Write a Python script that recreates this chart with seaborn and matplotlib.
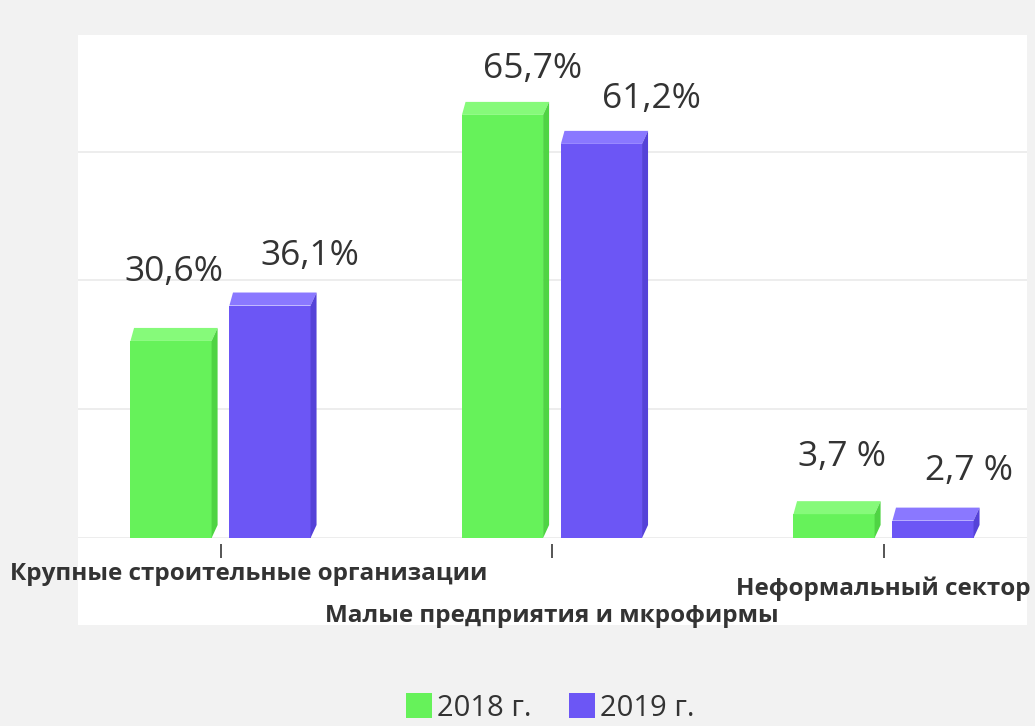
import matplotlib
matplotlib.use("Agg")
import matplotlib.pyplot as plt
import matplotlib.transforms as mtransforms
from matplotlib.patches import Polygon, Rectangle
import seaborn as sns
import pandas as pd

categories = ["Крупные строительные организации",
              "Малые предприятия и мкрофирмы",
              "Неформальный сектор"]
series_names = ["2018 г.", "2019 г."]
values_2018 = [30.6, 65.7, 3.7]
values_2019 = [36.1, 61.2, 2.7]
labels_2018 = ["30,6%", "65,7%", "3,7 %"]
labels_2019 = ["36,1%", "61,2%", "2,7 %"]

# styling
front = ["#66F25A", "#6C56F5"]
top_c = ["#86FA7A", "#8A78FF"]
side_c = ["#4FD444", "#5542D8"]
# label offsets in pixels (x shift, gap above bar) per series, mimicking the reference placement
label_dx = [[3, 30, 8], [40, 50, 36]]
label_gap = [[54, 31, 42], [35, 30, 35]]

df = pd.DataFrame({
    "cat": categories * 2,
    "year": [series_names[0]] * 3 + [series_names[1]] * 3,
    "val": values_2018 + values_2019,
})

sns.set_theme(style="white")
plt.rcParams["font.family"] = ["Open Sans", "DejaVu Sans"]

DPI = 100
fig = plt.figure(figsize=(10.35, 7.26), dpi=DPI)
fig.patch.set_facecolor("#F2F2F2")
bgrect = Rectangle((78 / 1035, 1 - 625 / 726), (1027 - 78) / 1035, (625 - 35) / 726,
                   transform=fig.transFigure, facecolor="white", edgecolor="none", zorder=-5)
fig.add_artist(bgrect)

Y0 = 538
ax = fig.add_axes([78 / 1035, 1 - Y0 / 726, (1027 - 78) / 1035, (Y0 - 35) / 726])
ax.set_zorder(2)
ax.patch.set_alpha(0)

sns.barplot(data=df, x="cat", y="val", hue="year", palette=front, width=0.597, gap=0.18,
            ax=ax, legend=True, saturation=1, edgecolor="none", zorder=3)

ax.set_xlim(-(220.5 - 78) / 331.5, (1027 - 220.5) / 331.5)
ax.set_ylim(0, (Y0 - 35) / 6.44)
ax.set_yticks([0, 20, 40, 60])
ax.set_yticklabels([])
ax.tick_params(axis="y", length=0)
ax.grid(axis="y", color="#ECECEC", linewidth=1.3, zorder=0)
ax.set_axisbelow(True)
for s in ["left", "right", "top"]:
    ax.spines[s].set_visible(False)
ax.spines["bottom"].set_position(("outward", 4))
ax.spines["bottom"].set_visible(False)
ax.tick_params(axis="x", length=10, width=1.4, color="#555555", direction="out",
               bottom=True, pad=3)
ax.set_xlabel("")
ax.set_ylabel("")

# fake 3D faces derived from bar geometry
dx, dy = 6, 13
for ci, cont in enumerate(ax.containers):
    for bar in cont:
        x0, y0 = bar.get_x(), bar.get_y()
        x1, y1 = x0 + bar.get_width(), y0 + bar.get_height()
        (px0, py0), (px1, py1) = ax.transData.transform([(x0, y0), (x1, y1)])
        topp = Polygon([(px0, py1), (px0 + dx * 0.6, py1 + dy), (px1 + dx, py1 + dy), (px1, py1)],
                       closed=True, transform=mtransforms.IdentityTransform(),
                       facecolor=top_c[ci], edgecolor="none", zorder=4)
        sidep = Polygon([(px1, py0), (px1, py1), (px1 + dx, py1 + dy), (px1 + dx, py0 + dy)],
                        closed=True, transform=mtransforms.IdentityTransform(),
                        facecolor=side_c[ci], edgecolor="none", zorder=4)
        ax.add_artist(topp)
        ax.add_artist(sidep)

px2pt = 72 / DPI
for ci, (cont, labs) in enumerate(zip(ax.containers, [labels_2018, labels_2019])):
    anns = ax.bar_label(cont, labels=labs, padding=0, fontsize=25.5, color="#333333")
    for j, a in enumerate(anns):
        a.xyann = (label_dx[ci][j] * px2pt, (label_gap[ci][j] - 2) * px2pt)

ax.set_xticks(range(len(categories)))
ax.set_xticklabels(categories, fontsize=17.5, fontweight="bold", color="#333333")
tl = ax.get_xticklabels()
tl[0].set_ha("left")
tl[0].set_transform(tl[0].get_transform() + mtransforms.ScaledTranslation(-2.105, 0, fig.dpi_scale_trans))
tl[1].set_transform(tl[1].get_transform() + mtransforms.ScaledTranslation(0, -0.42, fig.dpi_scale_trans))
tl[2].set_transform(tl[2].get_transform() + mtransforms.ScaledTranslation(0, -0.15, fig.dpi_scale_trans))

handles, labs = ax.get_legend_handles_labels()
ax.legend_.remove()
fig.legend(handles, labs, loc="center", bbox_to_anchor=(550 / 1035, 1 - 708 / 726), ncol=2,
           frameon=False, fontsize=21, handlelength=0.9, handleheight=0.9,
           handletextpad=0.15, columnspacing=1.3, labelcolor="#333333")

fig.savefig("out.png", dpi=DPI, facecolor=fig.get_facecolor())
